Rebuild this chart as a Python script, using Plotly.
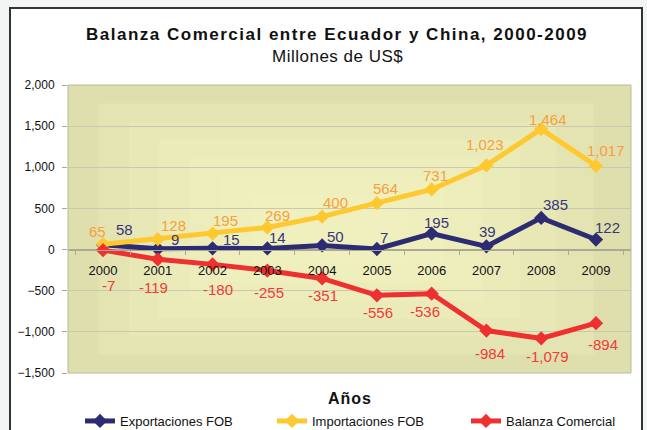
import plotly.graph_objects as go

years = ["2000", "2001", "2002", "2003", "2004", "2005", "2006", "2007", "2008", "2009"]
exportaciones = [58, 9, 15, 14, 50, 7, 195, 39, 385, 122]
importaciones = [65, 128, 195, 269, 400, 564, 731, 1023, 1464, 1017]
balanza = [-7, -119, -180, -255, -351, -556, -536, -984, -1079, -894]

# label pixel offsets (style)
exp_dx = [21, 17, 19, 10, 13, 7, 5, 1, 14, 12]
exp_dy = [15, 9, 9, 11, 9, 12, 11, 15, 13, 12]
imp_dx = [-6, 16, 13, 10, 13, 9, 4, -1, 7, 10]
imp_dy = [13, 14, 13, 12, 14, 15, 14, 21, 10, 15]
bal_dx = [5, -4, 5, 2, 1, 1, -7, 4, 6, 7]
bal_dy = [-35, -28, -25, -22, -17, -17, -18, -23, -18, -21]

FONT = "Liberation Sans, Arial, sans-serif"
W, H = 647, 430
L, R, T, B = 68, 16, 85, 57
PW, PH = W - L - R, H - T - B


def px_x(p):
    return (p - L) / PW


def px_y(p):
    return (H - B - p) / PH


series = [
    ("Exportaciones FOB", exportaciones, "#2d2c72", "#37367a", exp_dx, exp_dy, "legend", 80),
    ("Importaciones FOB", importaciones, "#fec930", "#f7a03c", imp_dx, imp_dy, "legend2", 272),
    ("Balanza Comercial", balanza, "#ee3030", "#ef3b3b", bal_dx, bal_dy, "legend3", 466),
]

fig = go.Figure()
annotations = []
legends = {}
for name, vals, col, tcol, dx, dy, lg, lx in series:
    fig.add_trace(go.Scatter(
        x=years, y=vals, name=name, mode="lines+markers",
        line=dict(color=col, width=5),
        marker=dict(symbol="diamond", size=11, color=col),
        legend=lg,
    ))
    legends[lg] = dict(orientation="h", x=px_x(lx), y=px_y(421), xanchor="left", yanchor="middle",
                       font=dict(family=FONT, size=13, color="#111111"),
                       bgcolor="rgba(0,0,0,0)")
    for i, v in enumerate(vals):
        annotations.append(dict(
            x=i, y=v, xref="x", yref="y", text=f"{v:,}", showarrow=False,
            xanchor="center", yanchor="middle", xshift=dx[i], yshift=dy[i],
            font=dict(family=FONT, size=15, color=tcol),
        ))

annotations += [
    dict(x=0.478, y=px_y(35), xref="paper", yref="paper", showarrow=False,
         text="<span style='letter-spacing:1.5px'><b>Balanza Comercial entre Ecuador y China, 2000-2009</b></span>",
         font=dict(family=FONT, size=17, color="#111111"), xanchor="center", yanchor="middle"),
    dict(x=0.478, y=px_y(57), xref="paper", yref="paper", showarrow=False,
         text="<span style='letter-spacing:0.5px'>Millones de US$</span>",
         font=dict(family=FONT, size=17, color="#111111"), xanchor="center", yanchor="middle"),
    dict(x=0.5, y=px_y(398), xref="paper", yref="paper", showarrow=False,
         text="<span style='letter-spacing:1px'><b>Años</b></span>",
         font=dict(family=FONT, size=16, color="#111111"), xanchor="center", yanchor="middle"),
]

shapes = [
    dict(type="rect", xref="paper", yref="paper", layer="below",
         x0=px_x(10), x1=px_x(642), y0=px_y(8), y1=px_y(440),
         fillcolor="white", line=dict(color="#333333", width=2)),
    dict(type="rect", xref="paper", yref="paper", layer="below",
         x0=0, x1=1, y0=0, y1=1, fillcolor="#dfdfad", line=dict(width=0)),
]
for k in range(1, 7):
    fx = 0.06 * k
    fy = 0.07 * k
    shapes.append(dict(type="rect", xref="paper", yref="paper", layer="below",
                       x0=fx * 0.9, x1=1 - fx * 1.1, y0=fy * 0.9, y1=1 - fy * 0.9,
                       fillcolor="#f4f4c6", opacity=0.22, line=dict(width=0)))
shapes.append(dict(type="rect", xref="paper", yref="paper", layer="above",
                   x0=0, x1=1, y0=0, y1=1, line=dict(color="#b9b9a4", width=1)))

fig.update_layout(
    width=W, height=H,
    margin=dict(l=L, r=R, t=T, b=B, autoexpand=False),
    paper_bgcolor="#f3f4f4",
    plot_bgcolor="rgba(0,0,0,0)",
    showlegend=True,
    annotations=annotations,
    shapes=shapes,
    font=dict(family=FONT),
    **legends,
)
fig.update_xaxes(
    type="category", anchor="free", position=1500 / 3500,
    showgrid=False, showline=True, linecolor="#a9a996", linewidth=1,
    ticks="outside", tickson="boundaries", ticklen=4, tickcolor="#a9a996",
    ticklabelstandoff=9,
    tickfont=dict(family=FONT, size=13, color="#111111"),
)
fig.update_yaxes(
    range=[-1500, 2000], dtick=500, tickformat=",",
    showgrid=True, gridcolor="#c9c9b0", gridwidth=1,
    zeroline=True, zerolinecolor="#a9a996", zerolinewidth=1,
    ticks="outside", ticklen=5, tickcolor="#a9a996",
    ticklabelstandoff=5,
    tickfont=dict(family=FONT, size=12, color="#111111"),
)

fig.write_html("out.html", config={"displayModeBar": False},
               post_script="document.body.style.margin='0';")
